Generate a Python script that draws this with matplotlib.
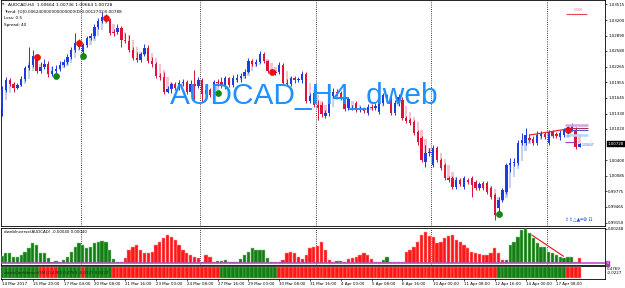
import matplotlib
matplotlib.use("Agg")
import matplotlib.pyplot as plt
import numpy as np

# ---------------- data ----------------
opens = [1.0140, 1.0180, 1.0200, 1.0192, 1.0184, 1.0190, 1.0202, 1.0224, 1.0230, 1.0248,
         1.0218, 1.0226, 1.0232, 1.0212, 1.0218, 1.0222, 1.0230, 1.0236, 1.0246, 1.0260,
         1.0274, 1.0256, 1.0270, 1.0284, 1.0288, 1.0306, 1.0318, 1.0326, 1.0320, 1.0296,
         1.0296, 1.0304, 1.0280, 1.0278, 1.0260, 1.0244, 1.0240, 1.0252, 1.0264, 1.0238,
         1.0232, 1.0208, 1.0206, 1.0176, 1.0182, 1.0192, 1.0184, 1.0194, 1.0196, 1.0176,
         1.0192, 1.0188, 1.0200, 1.0172, 1.0180, 1.0170, 1.0196, 1.0196, 1.0188, 1.0204,
         1.0190, 1.0200, 1.0204, 1.0208, 1.0216, 1.0238, 1.0232, 1.0236, 1.0252, 1.0238,
         1.0218, 1.0216, 1.0216, 1.0230, 1.0194, 1.0192, 1.0204, 1.0200, 1.0200, 1.0212,
         1.0158, 1.0174, 1.0150, 1.0150, 1.0128, 1.0134, 1.0168, 1.0176, 1.0174, 1.0164,
         1.0144, 1.0144, 1.0154, 1.0140, 1.0140, 1.0134, 1.0146, 1.0144, 1.0136, 1.0154,
         1.0168, 1.0164, 1.0134, 1.0152, 1.0160, 1.0124, 1.0120, 1.0116, 1.0096, 1.0084,
         1.0036, 1.0054, 1.0030, 1.0064, 1.0040, 1.0030, 1.0004, 1.0004, 0.9986, 1.0000,
         0.9986, 1.0000, 1.0004, 0.9996, 0.9984, 0.9994, 0.9994, 0.9984, 0.9970, 0.9944,
         0.9960, 0.9976, 1.0030, 1.0034, 1.0034, 1.0074, 1.0074, 1.0084, 1.0082, 1.0074,
         1.0088, 1.0092, 1.0074, 1.0096, 1.0092, 1.0086, 1.0090, 1.0096, 1.0100, 1.0100,
         1.00664]
highs = [1.0188, 1.0206, 1.0204, 1.0196, 1.0194, 1.0208, 1.0228, 1.0266, 1.0260, 1.0252,
         1.0236, 1.0242, 1.0238, 1.0228, 1.0230, 1.0238, 1.0242, 1.0252, 1.0266, 1.0294,
         1.0282, 1.0274, 1.0288, 1.0294, 1.0312, 1.0324, 1.0336, 1.0332, 1.0324, 1.0302,
         1.0312, 1.0308, 1.0294, 1.0290, 1.0266, 1.0256, 1.0256, 1.0272, 1.0270, 1.0246,
         1.0236, 1.0214, 1.0216, 1.0188, 1.0196, 1.0196, 1.0200, 1.0202, 1.0200, 1.0200,
         1.0220, 1.0206, 1.0204, 1.0186, 1.0184, 1.0200, 1.0202, 1.0206, 1.0208, 1.0206,
         1.0210, 1.0212, 1.0214, 1.0222, 1.0244, 1.0242, 1.0242, 1.0258, 1.0256, 1.0240,
         1.0222, 1.0220, 1.0236, 1.0234, 1.0202, 1.0208, 1.0208, 1.0206, 1.0218, 1.0216,
         1.0174, 1.0178, 1.0160, 1.0156, 1.0140, 1.0174, 1.0184, 1.0182, 1.0178, 1.0170,
         1.0166, 1.0150, 1.0158, 1.0148, 1.0144, 1.0152, 1.0152, 1.0154, 1.0164, 1.0174,
         1.0172, 1.0168, 1.0160, 1.0172, 1.0166, 1.0128, 1.0124, 1.0120, 1.0100, 1.0088,
         1.0070, 1.0064, 1.0070, 1.0068, 1.0044, 1.0034, 1.0008, 1.0008, 1.0006, 1.0004,
         1.0008, 1.0004, 1.0008, 1.0000, 0.9996, 0.9998, 0.9998, 0.9988, 0.9974, 0.9966,
         0.9984, 1.0034, 1.0044, 1.0044, 1.0080, 1.0094, 1.0104, 1.0092, 1.0088, 1.0098,
         1.0098, 1.0096, 1.0100, 1.0100, 1.0096, 1.0100, 1.0104, 1.0110, 1.0114, 1.0106,
         1.00736]
lows = [1.0128, 1.0176, 1.0188, 1.0176, 1.0182, 1.0188, 1.0198, 1.0220, 1.0226, 1.0214,
        1.0214, 1.0222, 1.0206, 1.0208, 1.0214, 1.0218, 1.0226, 1.0232, 1.0242, 1.0256,
        1.0262, 1.0252, 1.0266, 1.0280, 1.0284, 1.0302, 1.0314, 1.0316, 1.0290, 1.0288,
        1.0292, 1.0266, 1.0274, 1.0256, 1.0240, 1.0236, 1.0236, 1.0248, 1.0234, 1.0226,
        1.0204, 1.0200, 1.0172, 1.0174, 1.0174, 1.0180, 1.0180, 1.0188, 1.0172, 1.0174,
        1.0160, 1.0184, 1.0156, 1.0168, 1.0166, 1.0168, 1.0188, 1.0184, 1.0182, 1.0186,
        1.0186, 1.0196, 1.0196, 1.0204, 1.0214, 1.0228, 1.0228, 1.0234, 1.0234, 1.0214,
        1.0212, 1.0210, 1.0212, 1.0190, 1.0188, 1.0188, 1.0194, 1.0196, 1.0194, 1.0154,
        1.0154, 1.0146, 1.0120, 1.0126, 1.0124, 1.0128, 1.0164, 1.0168, 1.0160, 1.0138,
        1.0140, 1.0140, 1.0136, 1.0136, 1.0134, 1.0130, 1.0140, 1.0140, 1.0132, 1.0150,
        1.0156, 1.0130, 1.0130, 1.0148, 1.0120, 1.0114, 1.0110, 1.0090, 1.0070, 1.0036,
        1.0026, 1.0048, 1.0026, 1.0036, 1.0020, 1.0000, 0.9996, 0.9982, 0.9982, 0.9988,
        0.9982, 0.9992, 0.9966, 0.9980, 0.9980, 0.9980, 0.9972, 0.9962, 0.9920, 0.9936,
        0.9956, 0.9972, 1.0016, 1.0028, 1.0030, 1.0070, 1.0070, 1.0076, 1.0070, 1.0070,
        1.0084, 1.0082, 1.0070, 1.0084, 1.0084, 1.0080, 1.0086, 1.0092, 1.0098, 1.0062,
        1.00664]
closes = [1.0180, 1.0200, 1.0192, 1.0184, 1.0190, 1.0202, 1.0224, 1.0230, 1.0248, 1.0218,
          1.0226, 1.0232, 1.0212, 1.0218, 1.0222, 1.0230, 1.0236, 1.0246, 1.0260, 1.0274,
          1.0266, 1.0270, 1.0284, 1.0288, 1.0306, 1.0318, 1.0326, 1.0320, 1.0294, 1.0294,
          1.0304, 1.0280, 1.0278, 1.0260, 1.0244, 1.0240, 1.0252, 1.0264, 1.0238, 1.0232,
          1.0208, 1.0206, 1.0176, 1.0182, 1.0192, 1.0184, 1.0194, 1.0196, 1.0176, 1.0192,
          1.0188, 1.0200, 1.0172, 1.0180, 1.0170, 1.0196, 1.0194, 1.0188, 1.0204, 1.0190,
          1.0204, 1.0204, 1.0208, 1.0216, 1.0238, 1.0232, 1.0236, 1.0252, 1.0238, 1.0218,
          1.0216, 1.0214, 1.0230, 1.0194, 1.0192, 1.0204, 1.0200, 1.0202, 1.0212, 1.0158,
          1.0168, 1.0150, 1.0144, 1.0132, 1.0134, 1.0168, 1.0176, 1.0174, 1.0164, 1.0142,
          1.0162, 1.0144, 1.0140, 1.0142, 1.0138, 1.0146, 1.0144, 1.0148, 1.0160, 1.0170,
          1.0160, 1.0134, 1.0154, 1.0166, 1.0124, 1.0118, 1.0114, 1.0094, 1.0076, 1.0040,
          1.0054, 1.0056, 1.0064, 1.0040, 1.0024, 1.0004, 1.0000, 0.9986, 1.0000, 0.9992,
          1.0004, 0.9996, 0.9990, 0.9984, 0.9992, 0.9984, 0.9976, 0.9966, 0.9930, 0.9960,
          0.9980, 1.0030, 1.0034, 1.0036, 1.0074, 1.0080, 1.0090, 1.0080, 1.0074, 1.0090,
          1.0092, 1.0086, 1.0096, 1.0088, 1.0088, 1.0094, 1.0100, 1.0106, 1.0110, 1.0066,
          1.00728]

# dwebInverse histogram, in units of 0.00001
hist_vals = [51, 73, 73, 44, 44, 58, 80, 110, 146, 131,
             73, 73, 37, 7, 15, 7, 22, 44, 80, 117,
             146, 131, 110, 117, 146, 153, 161, 153, 95, 29,
             4, 7, 37, 95, 117, 131, 95, 73, 73, 80,
             131, 153, 183, 204, 190, 168, 131, 95, 73, 58,
             44, 37, 4, 58, 44, 7, 11, 11, 22, 4,
             4, 7, 29, 58, 80, 110, 95, 95, 95, 37,
             7, 4, 7, 22, 73, 80, 73, 44, 29, 58,
             110, 117, 124, 153, 95, 22, 4, 15, 11, 4,
             29, 37, 44, 58, 73, 58, 29, 7, 4, 22,
             44, 4, 7, 4, 7, 80, 95, 117, 153, 204,
             226, 197, 190, 146, 153, 183, 197, 204, 168, 153,
             131, 110, 80, 73, 66, 58, 58, 73, 110, 73,
             22, 22, 131, 153, 190, 241, 248, 219, 183, 146,
             117, 117, 80, 73, 58, 44, 37, 44, 44, 4,
             37]
hist_runs = [("G", 31), ("R", 25), ("G", 16), ("R", 15), ("G", 2), ("R", 10),
             ("G", 2), ("R", 30), ("G", 19), ("R", 1)]
strip_runs = [("G", 10), ("R", 5), ("G", 6), ("R", 1), ("G", 7), ("R", 28),
              ("G", 15), ("R", 57), ("G", 18), ("R", 4)]

price_ticks = [1.03515, 1.03200, 1.02890, 1.02580, 1.02265, 1.01955, 1.01645,
               1.01330, 1.01020, 1.00400, 1.00085, 0.99775, 0.99465, 0.99150]
time_labels = ["14 Mar 2017", "15 Mar 20:00", "17 Mar 04:00", "20 Mar 08:00",
               "21 Mar 16:00", "23 Mar 00:00", "24 Mar 08:00", "27 Mar 16:00",
               "29 Mar 00:00", "30 Mar 08:00", "31 Mar 16:00", "4 Apr 00:00",
               "5 Apr 08:00", "6 Apr 16:00", "10 Apr 00:00", "11 Apr 08:00",
               "12 Apr 16:00", "14 Apr 00:00", "17 Apr 08:00"]
time_label_bars = [0, 8, 16, 24, 32, 40, 48, 56, 64, 72, 80, 88, 96, 104,
                   112, 120, 128, 136, 144]
week_separators = [20.5, 51.5, 81.5, 111.5, 141.5]

red_dot_bars = [9, 20, 27, 70, 147]
red_dot_prices = [1.0246, 1.0274, 1.0324, 1.0216, 1.0100]
green_dot_bars = [14, 21, 56, 129]
green_dot_prices = [1.0208, 1.0248, 1.0174, 0.9932]

trend_bars = [137.1, 146.8]
trend_prices = [1.0090, 1.0102]
hist_trend_bars = [137.6, 145.8]
hist_trend_vals = [204, 50]

current_price = 1.00728

# --------------- layout ---------------
FIG_W, FIG_H = 625, 288
BAR_PX = 3.85
X0_PX = 2.0


def px_rect(left, top, right, bottom):
    return [left / FIG_W, 1 - bottom / FIG_H, (right - left) / FIG_W, (bottom - top) / FIG_H]


def fx(px):
    return px / FIG_W


def fy(py):
    return 1 - py / FIG_H


BLUE = "#1f3cdc"
RED = "#dc143c"
PALE_BLUE = "#c6d0f5"
PALE_RED = "#f6c4cf"
HG = "#137f13"
HR = "#ff1616"
SMALL = 2.9

fig = plt.figure(figsize=(6.25, 2.88), dpi=100)
fig.patch.set_facecolor("white")

ax = fig.add_axes(px_rect(0.5, 0.0, 605, 225.5))
ax2 = fig.add_axes(px_rect(0.5, 227.5, 605, 264.5))
ax3 = fig.add_axes(px_rect(0.5, 266, 605, 279))

xlim = ((0.5 - X0_PX) / BAR_PX, (605 - X0_PX) / BAR_PX)
for a in (ax, ax2, ax3):
    a.set_xlim(*xlim)
    a.set_facecolor("white")
    for s in a.spines.values():
        s.set_linewidth(0.6)
        s.set_color("black")

N = len(closes)
x = np.arange(N)
o = np.array(opens)
h = np.array(highs)
l = np.array(lows)
c = np.array(closes)

# ---- pale Heiken-Ashi style shadow candles ----
ha_c = (o + h + l + c) / 4
ha_o = np.empty(N)
ha_o[0] = (o[0] + c[0]) / 2
for i in range(1, N):
    ha_o[i] = (ha_o[i - 1] + ha_c[i - 1]) / 2
ha_up = ha_c >= ha_o
ha_col = np.where(ha_up, PALE_BLUE, PALE_RED)
ax.bar(x, np.abs(ha_c - ha_o) + 0.00006, bottom=np.minimum(ha_o, ha_c) - 0.00003,
       width=0.6, color=ha_col, linewidth=0, zorder=1)

# ---- candles ----
up = c >= o
col = np.where(up, BLUE, RED)
ax.vlines(x, l, h, colors=col, linewidth=0.7, zorder=3)
small_body = np.abs(c - o) < 0.00008
ax.bar(x, np.maximum(np.abs(c - o), 0.00008),
       bottom=np.minimum(o, c) - np.where(small_body, 0.00004, 0),
       width=0.6, color=col, linewidth=0, zorder=4)

ax.set_ylim(0.9909, 1.0360)

# week separators
for a in (ax, ax2):
    for s in week_separators:
        a.axvline(s, color="black", linestyle=(0, (1, 1.6)), linewidth=0.6, zorder=2)

# arrows / dots
ax.scatter(red_dot_bars, red_dot_prices, s=20, color="#f01010", edgecolors="#c00000",
           linewidths=0.3, zorder=6)
ax.scatter(green_dot_bars, green_dot_prices, s=20, color="#118a11", edgecolors="#0a600a",
           linewidths=0.3, zorder=6)

ax.plot(trend_bars, trend_prices, color="#f01010", linewidth=0.8, zorder=5)

# right-edge objects
ax.hlines(1.0332, 146.5, 152.0, color="#e04858", linewidth=0.8, zorder=5)
ax.text(148.5, 1.0338, "0.0000", color="#e07080", fontsize=2.0, zorder=5)
ax.hlines(1.0110, 146.3, 152.3, color="#d4a6dc", linewidth=1.8, zorder=5)
ax.hlines(1.0104, 146.3, 152.3, color="#b03050", linewidth=0.8, zorder=5)
ax.hlines(1.0100, 146.3, 152.3, color="#4a5ac8", linewidth=0.8, zorder=5)
ax.hlines(1.0090, 146.3, 152.3, color="#b4d8f6", linewidth=1.8, zorder=5)
ax.hlines(1.0076, 146.3, 148.6, color="#a040c0", linewidth=0.8, zorder=5)
ax.text(146.6, 1.0083, "BV", color="#7090e0", fontsize=2.2, zorder=5)
ax.text(150.6, 1.0070, "1.00647", color="#4060d0", fontsize=2.2, va="center", zorder=5)
ax.text(146.3, 0.9922, "\u21ea\u21ea\u25b3\u25b2\u2550\u2295 \u03a9", color="#2050e0",
        fontsize=3.4, va="center", zorder=5)

# y axis (right)
ax.yaxis.tick_right()
ax.set_yticks(price_ticks)
ax.set_yticklabels([f"{p:.5f}" for p in price_ticks])
ax.tick_params(axis="y", direction="out", length=1.5, width=0.5, pad=0.8,
               labelsize=SMALL, colors="black")
ax.set_xticks([])
ax.annotate(f"{current_price:.5f}", xy=(1.0, current_price), xycoords=("axes fraction", "data"),
            xytext=(2.0, 0), textcoords="offset points", ha="left", va="center",
            fontsize=SMALL, color="white",
            bbox=dict(boxstyle="square,pad=0.2", fc="black", ec="black"))

# watermark
fig.text(fx(304), fy(104), "AUDCAD_H4_dweb", color="#1e90ff", fontsize=21.5,
         family="Liberation Sans", ha="center", va="baseline", zorder=10)

# header texts
fig.text(fx(2), fy(4.5), "\u25bc", fontsize=2.2, color="#3050a0", va="center")
fig.text(fx(8), fy(4.5), "AUDCAD,H4  1.00664 1.00736 1.00664 1.00728", fontsize=3.2, va="center")
fig.text(fx(4), fy(11), "Trend: [U]0.006240000000000000(D)0.00127(D)0.00788", fontsize=3.0, va="center")
fig.text(fx(4), fy(18), "Loss: 0.5", fontsize=3.0, va="center")
fig.text(fx(4), fy(25), "Spread: 40", fontsize=3.0, va="center")

# ---- histogram panel ----
hist_cols = []
hist_edges = []
for k, n in hist_runs:
    hist_cols += [HG if k == "G" else HR] * n
    hist_edges += ["#8ccc8c" if k == "G" else "#ff9a9a"] * n
ax2.bar(x, hist_vals, width=0.85, color=hist_cols, edgecolor=hist_edges, linewidth=0.35, zorder=3)
ax2.axhline(0, color="#b048c0", linewidth=1.1, zorder=4)
ax2.plot(hist_trend_bars, hist_trend_vals, color="#f01010", linewidth=0.8, zorder=5)
ax2.set_ylim(-10.9, 258.8)
ax2.yaxis.tick_right()
ax2.set_yticks([248])
ax2.set_yticklabels(["0.00248"])
ax2.tick_params(axis="y", direction="out", length=1.5, width=0.5, pad=0.8, labelsize=SMALL)
ax2.set_xticks([])
ax2.text(0.006, 0.88, "dwebInverse(AUDCAD) -0.00040 0.00040", transform=ax2.transAxes,
         fontsize=SMALL, va="center")
ax2.annotate("0", xy=(1.0, 0), xycoords=("axes fraction", "data"), xytext=(1.2, 0),
             textcoords="offset points", ha="left", va="center", fontsize=2.4, color="white",
             bbox=dict(boxstyle="square,pad=0.15", fc="#a040a0", ec="#a040a0"))

# ---- confidence strip ----
strip_cols = []
strip_edges = []
for k, n in strip_runs:
    strip_cols += [HG if k == "G" else HR] * n
    strip_edges += ["#6ab06a" if k == "G" else "#ff8c8c"] * n
ax3.bar(x, [1.0] * N, width=1.0, bottom=0, color=strip_cols, edgecolor=strip_edges,
        linewidth=0.35, zorder=3)
ax3.set_ylim(-0.08, 1.08)
ax3.set_yticks([])
ax3.text(0.006, 0.5, "dwebConfidence(5M) 0.4769 0.4769 -0.0227 0.0227", transform=ax3.transAxes,
         fontsize=SMALL, va="center", color="#202020", zorder=5)
ax3.set_xticks(time_label_bars)
ax3.set_xticklabels(time_labels)
for t in ax3.get_xticklabels():
    t.set_horizontalalignment("left")
ax3.tick_params(axis="x", direction="out", length=1.5, width=0.5, pad=0.8, labelsize=SMALL)
fig.text(fx(607), fy(269.3), "0.4769", fontsize=SMALL, va="center")
fig.text(fx(607), fy(273.3), "-0.0227", fontsize=SMALL, va="center")

fig.savefig("out.png", dpi=100, facecolor="white")
